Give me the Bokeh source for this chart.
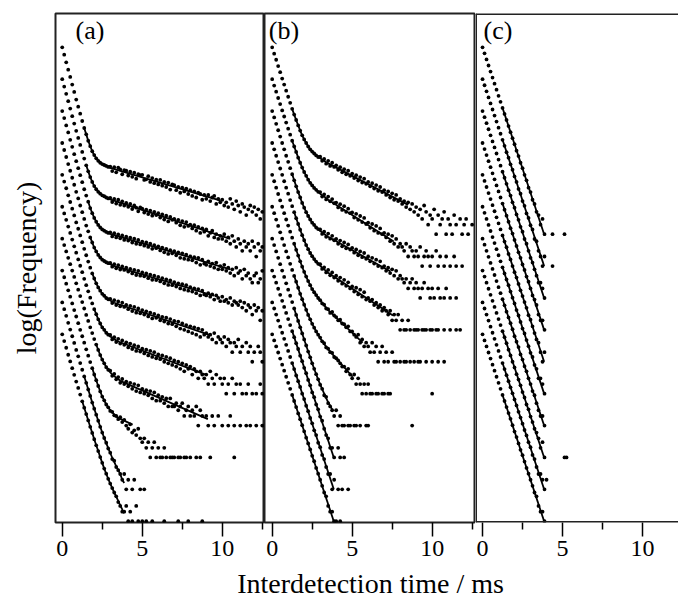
from bokeh.plotting import figure
from bokeh.layouts import row, column
from bokeh.models import FixedTicker, Label, Range1d, Span
from bokeh.embed import file_html
from bokeh.resources import INLINE

BIN = 0.125          # histogram bin width (ms); values below are log10(frequency) per bin
OFFSETS = [9, 8, 7, 6, 5, 4, 3, 2, 1, 0]   # vertical offset (decades) of each curve
N = None

# ---------------- panel (a) ----------------
pa0 = [5.86,5.63,5.39,5.16,4.93,4.69,4.46,4.22,4.00,3.78,3.55,3.33,
 3.13,2.93,2.76,2.60,2.48,2.38,2.30,2.24,2.20,2.17,2.14,2.11,
 2.12,1.98,2.10,1.94,2.09,2.03,1.88,2.01, 1.99,1.84,1.96,1.80,1.93,1.74,1.88,1.85,
 1.86,1.70,1.72,1.82,1.64,1.76,1.60,1.71, 1.56,1.70,1.52,1.64,1.48,1.62,1.40,1.56,
 1.54,1.38,1.48,1.30,1.46,1.34,1.43,1.26, 1.38,1.20,1.34,1.15,1.30,1.26,1.08,1.23,
 1.11,1.23,1.04,1.15,1.20,0.95,1.11,1.00, 1.08,0.90,1.00,0.85,1.11,0.95,0.78,1.04,
 0.90,0.70,0.95,0.85,0.60,0.78,0.90,0.70, 0.85,0.60,0.78,0.48,0.70]
pa1 = [5.86,5.63,5.40,5.17,4.94,4.70,4.47,4.24,4.02,3.80,3.58,3.37,
 3.16,2.97,2.79,2.64,2.51,2.41,2.33,2.27,2.22,2.19,2.15,2.12,
 2.14,2.01,2.11,1.96,2.08,1.92,2.03,1.90, 1.98,1.86,1.95,1.79,1.90,1.83,1.72,1.84,
 1.80,1.68,1.77,1.63,1.74,1.58,1.70,1.60, 1.66,1.52,1.62,1.46,1.58,1.40,1.54,1.45,
 1.48,1.36,1.45,1.28,1.41,1.23,1.38,1.26, 1.30,1.18,1.28,1.11,1.23,1.04,1.18,1.08,
 1.15,0.95,1.04,1.11,0.90,1.00,0.85,0.95, 0.85,1.00,0.78,0.90,0.70,0.95,0.78,0.60,
 0.85,0.70,0.48,0.78,0.60,0.70,0.48,0.78, 0.60,0.30,0.70,0.48,0.60]
pa2 = [5.86,5.64,5.41,5.19,4.96,4.74,4.51,4.29,4.07,3.85,3.63,3.41,
 3.21,3.02,2.82,2.66,2.51,2.39,2.29,2.21,2.15,2.11,2.07,2.04,
 2.06,1.93,2.03,1.90,1.99,1.87,1.96,1.82, 1.92,1.80,1.89,1.74,1.86,1.70,1.82,1.68,
 1.77,1.64,1.74,1.60,1.70,1.54,1.66,1.56, 1.62,1.49,1.58,1.43,1.54,1.38,1.50,1.40,
 1.47,1.34,1.43,1.26,1.40,1.23,1.36,1.20, 1.30,1.18,1.28,1.11,1.26,1.04,1.20,1.08,
 1.04,1.15,1.00,1.08,0.95,1.11,0.90,1.00, 0.90,1.04,0.85,0.95,0.78,0.90,0.70,0.95,
 0.78,0.85,0.60,0.90,0.70,0.78,0.60,0.48, 0.70,0.78,0.48,0.60,0.85]
pa3 = [5.86,5.64,5.42,5.20,4.99,4.77,4.55,4.33,4.12,3.90,3.69,3.48,
 3.27,3.09,2.90,2.74,2.58,2.46,2.35,2.27,2.20,2.16,2.12,2.09,
 2.10,1.98,2.06,1.93,2.03,1.89,1.99,1.88, 1.95,1.83,1.91,1.77,1.88,1.72,1.85,1.70,
 1.80,1.68,1.77,1.62,1.73,1.57,1.70,1.56, 1.66,1.52,1.62,1.46,1.58,1.41,1.55,1.40,
 1.50,1.36,1.46,1.30,1.43,1.26,1.40,1.23, 1.34,1.20,1.30,1.15,1.28,1.08,1.23,1.11,
 1.08,1.15,1.04,1.11,0.95,1.08,1.00,0.90, 1.04,0.90,0.95,0.85,1.00,0.78,0.90,0.85,
 0.78,0.90,0.70,0.85,0.60,0.78,0.70,0.48, 0.78,0.60,0.70,0.30,0.60]
pa4 = [5.86,5.65,5.44,5.22,5.01,4.80,4.59,4.37,4.17,3.96,3.75,3.54,
 3.34,3.14,2.95,2.77,2.61,2.46,2.33,2.23,2.13,2.07,2.00,1.96,
 1.97,1.84,1.93,1.78,1.89,1.74,1.85,1.72, 1.78,1.65,1.75,1.59,1.72,1.54,1.67,1.52,
 1.62,1.48,1.58,1.42,1.54,1.36,1.50,1.38, 1.45,1.30,1.41,1.26,1.38,1.20,1.34,1.18,
 1.28,1.11,1.26,1.04,1.20,1.00,1.15,0.95, 1.11,0.90,1.08,0.85,1.04,0.78,1.00,0.85,
 0.90,0.78,0.85,0.70,0.90,0.60,0.78,0.70, 0.60,0.78,0.48,0.70,0.60,0.30,0.60,0.48,
 0.70,0.30,0.48,N,0.60,0.30,0.48,0, 0.30,N,0.48,0.30,0]
pa5 = [5.86,5.65,5.45,5.24,5.04,4.83,4.62,4.42,4.21,4.01,3.81,3.60,
 3.40,3.21,3.01,2.83,2.65,2.49,2.33,2.20,2.08,2.00,1.91,1.85,
 1.84,1.70,1.77,1.62,1.72,1.57,1.67,1.53, 1.61,1.45,1.57,1.40,1.52,1.34,1.48,1.32,
 1.41,1.26,1.38,1.20,1.34,1.15,1.30,1.11, 1.23,1.08,1.20,1.00,1.15,0.95,1.11,0.90,
 1.04,0.85,1.00,0.78,0.95,0.70,0.90,0.78, 0.85,0.60,0.78,0.70,0.48,0.70,0.60,0.48,
 0.60,0.30,0.70,0.48,0.30,0.60,N,0.48, 0.30,0.48,0,0.30,N,0.48,0,0.30,
 N,0.30,0,N,0,0.30,N,0, N,0,N,0.30,0]
pa6 = [5.86,5.66,5.46,5.26,5.06,4.86,4.66,4.46,4.26,4.06,3.87,3.67,
 3.47,3.28,3.08,2.90,2.71,2.54,2.37,2.21,2.07,1.95,1.83,1.75,
 1.72,1.56,1.62,1.45,1.52,1.34,1.46,1.30, 1.38,1.23,1.34,1.15,1.30,1.08,1.26,1.04,
 1.15,1.00,1.11,0.95,1.08,0.85,1.04,0.78, 0.95,0.78,0.90,0.70,0.85,0.60,0.85,0.60,
 0.60,0.70,0.48,0.60,0.70,0.30,0.48,0.60, 0.30,0.48,0.30,0.60,0,0.48,0.30,N,
 0.30,0,N,0.30,0,N,0.30,N, 0,N,N,0,0.30,N,0,N,
 N,0,N,N,0,N,0,N, N,0,N,N,0]
pa7 = [5.86,5.65,5.45,5.24,5.04,4.83,4.62,4.42,4.21,4.00,3.80,3.60,
 3.39,3.19,2.99,2.80,2.60,2.42,2.24,2.07,1.91,1.79,1.66,1.57,
 1.46,1.43,1.32,1.30,1.20,1.26,1.11,1.18, 1.00,0.90,1.04,0.78,0.85,0.70,0.90,0.60,
 0.48,0.60,0.30,0.48,0,0.30,0.48,0, 0.30,0,0,0.30,0,N,0,0,
 0,N,0,0,N,0,0,N, 0,N,N,0,N,0,N,N,
 N,N,0,N,N,N,N,N, N,N,N,N,N,N,0]
pa8 = [5.86,5.65,5.44,5.22,5.01,4.80,4.59,4.37,4.17,3.96,3.75,3.54,
 3.34,3.13,2.93,2.72,2.53,2.34,2.15,1.96,1.78,1.61,1.46,1.28,
 1.15,0.95,0.90,0.70,0.60,0.48,0.30,0.48, 0,0.30,N,0,0.30,N,N,0, N,0]
pa9 = [5.86,5.65,5.44,5.22,5.01,4.80,4.59,4.38,4.18,3.97,3.76,3.56,
 3.36,3.16,2.96,2.77,2.57,2.38,2.20,2.01,1.83,1.65,1.49,1.33,
 1.18,1.04,0.90,0.78,0.60,0.48,0.30,0.30, 0.48,0,0.30,0,N,0.48,0,N,
 0,N,0,N,N,0,N,N, N,N,N,0,N,N,N,N, N,N,0,N,N,N,N,0, N,N,N,N,N,N,0]

# fitted curves: (start time, values every BIN from start, extra end points (t, value))
fa0 = (1.375, [3.33,3.13,2.93,2.76,2.60,2.48,2.38,2.30,2.24,2.20,2.17,2.14,2.11,2.08], [(9.9, 1.05)])
fa1 = (1.5, [3.16,2.97,2.79,2.64,2.51,2.41,2.33,2.27,2.22,2.19,2.15,2.12,2.09], [(10.5, 0.85)])
fa2 = (1.625, [3.02,2.82,2.66,2.51,2.39,2.29,2.21,2.15,2.11,2.07,2.04,2.01], [(10.5, 0.90)])
fa3 = (1.75, [2.90,2.74,2.58,2.46,2.35,2.27,2.20,2.16,2.12,2.09,2.06,2.03,2.00], [(9.5, 1.07)])
fa4 = (1.875, [2.77,2.61,2.46,2.33,2.23,2.13,2.07,2.00,1.96,1.92,1.88,1.85], [(9.2, 0.84)])
fa5 = (2.0, [2.65,2.49,2.33,2.20,2.08,2.00,1.91,1.85,1.79,1.76,1.71,1.67,1.635], [(9.0, 0.59)])
fa6 = (2.125, [2.54,2.37,2.21,2.07,1.95,1.83,1.75,1.67,1.60,1.55,1.50,1.46,1.40], [(9.1, 0.20)])
fa7 = (1.875, [2.80,2.60,2.42,2.24,2.07,1.91,1.79,1.66,1.57,1.48,1.41,1.35,1.29,1.24], [(4.4, 1.03)])
fa8 = (1.375, [3.54,3.34,3.13,2.93,2.72,2.53,2.34,2.15,1.96,1.78,1.61,1.45,1.29,1.14,0.99,0.86,0.72,0.60,0.48,0.30,0.20], [])
fa9 = (1.25, [3.76,3.56,3.36,3.16,2.96,2.77,2.57,2.38,2.20,2.01,1.83,1.65,1.49,1.33,1.18,1.04,0.90,0.77,0.64,0.50,0.37,0.25], [])

# ---------------- panel (b) ----------------
pb0 = [5.86,5.66,5.47,5.27,5.08,4.88,4.69,4.50,4.31,4.12,3.93,3.75,
 3.58,3.41,3.25,3.10,2.97,2.86,2.75,2.66,2.59,2.53,2.47,2.42,
 2.43,2.30,2.36,2.21,2.30,2.14,2.24,2.11, 2.16,2.02,2.10,1.94,2.04,1.88,1.99,1.83,
 1.90,1.76,1.85,1.68,1.79,1.62,1.74,1.58, 1.64,1.50,1.60,1.43,1.54,1.36,1.48,1.32,
 1.38,1.23,1.34,1.15,1.28,1.08,1.23,1.04, 1.11,0.95,1.04,0.85,1.00,0.78,0.95,0.70,
 0.85,0.60,0.78,0.48,0.90,0.70,0.30,0.60, 0.48,0.78,0,0.60,0.30,0.48,0.70,0,
 0.48,0.30,0,0.60,0.30,N,0.48,0, 0.30,0.48,0,N,0.30]
pb1 = [5.86,5.66,5.47,5.27,5.08,4.88,4.69,4.50,4.31,4.12,3.93,3.75,
 3.58,3.40,3.24,3.09,2.95,2.83,2.71,2.61,2.53,2.45,2.39,2.33,
 2.32,2.18,2.25,2.09,2.18,2.03,2.10,1.97, 1.99,1.84,1.94,1.76,1.88,1.70,1.80,1.66,
 1.68,1.52,1.64,1.45,1.57,1.38,1.51,1.32, 1.36,1.20,1.32,1.11,1.26,1.04,1.18,1.00,
 1.04,0.90,1.00,0.78,0.95,0.70,0.85,0.60, 0.70,0.60,0.48,0.70,0.30,0.60,0.48,0.30,
 0.48,0.30,0.60,0,0.30,0.48,0.30,0, 0.30,N,0.48,0,0.30,N,0,0.30,
 N,0,N,0.30,0,N,N,0]
pb2 = [5.86,5.66,5.46,5.26,5.06,4.86,4.66,4.46,4.27,4.07,3.88,3.69,
 3.50,3.32,3.15,2.98,2.83,2.69,2.57,2.46,2.36,2.29,2.21,2.16,
 2.15,2.01,2.08,1.92,2.02,1.86,1.95,1.81, 1.85,1.70,1.80,1.62,1.74,1.56,1.68,1.52,
 1.57,1.42,1.52,1.34,1.46,1.28,1.41,1.23, 1.30,1.15,1.26,1.08,1.20,1.00,1.15,0.95,
 1.00,0.85,0.95,0.78,0.90,0.70,0.85,0.60, 0.70,0.60,0.48,0.60,0.30,0.48,0.60,0.30,
 0.48,0.30,0,0.30,0.48,N,0.30,0, 0.30,0,N,0.30,0,N,0,0.30,
 N,0,N,N,0]
pb3 = [5.86,5.66,5.46,5.26,5.06,4.86,4.66,4.46,4.27,4.07,3.88,3.69,
 3.50,3.32,3.14,2.97,2.81,2.66,2.53,2.41,2.31,2.22,2.14,2.07,
 2.06,1.91,1.96,1.80,1.88,1.71,1.80,1.64, 1.70,1.54,1.64,1.45,1.57,1.38,1.49,1.30,
 1.36,1.20,1.32,1.11,1.26,1.04,1.18,0.95, 1.00,0.90,0.95,0.78,0.85,0.70,0.78,0.60,
 0.70,0.60,0.48,0.60,0.30,0.48,0.30,0.48, 0,0.30,0,0,0.30,0,N,0,
 0,0,N,0,0,0,N,0, 0,N,0,0,N,N,0,N, N,0,N,N,0,N,0]
pb4 = [5.86,5.66,5.46,5.26,5.06,4.86,4.66,4.46,4.27,4.08,3.89,3.70,
 3.51,3.33,3.15,2.98,2.82,2.67,2.53,2.40,2.28,2.18,2.09,2.00,
 1.93,1.83,1.79,1.67,1.65,1.53,1.56,1.45, 1.40,1.30,1.32,1.20,1.18,1.08,1.11,0.95,
 0.95,0.85,0.78,0.85,0.60,0.70,0.48,0.60, 0.48,0.30,0.60,0.30,0.48,0,0.30,0.48,
 0,0.30,0,N,0.30,0,0,N, 0,N,0,0,N,0,N,0, N,0,0,N,N,0,N,N, 0,N,N,0,N,N,0]
pb5 = [5.86,5.66,5.46,5.26,5.06,4.86,4.66,4.46,4.27,4.07,3.88,3.69,
 3.51,3.32,3.13,2.96,2.79,2.63,2.47,2.33,2.19,2.07,1.95,1.85,
 1.76,1.64,1.58,1.45,1.41,1.30,1.28,1.15, 1.11,1.04,0.95,0.85,0.85,0.70,0.78,0.60,
 0.48,0.60,0.30,0.48,0.30,0,0.30,0, 0.30,0,0,N,0,0,N,0,
 0,N,0,0,N,N,N,N, N,N,N,N,N,N,N,N, N,N,N,N,N,N,N,N, 0]
pb6 = [5.86,5.66,5.46,5.26,5.06,4.86,4.66,4.46,4.26,4.07,3.87,3.67,
 3.47,3.28,3.08,2.89,2.70,2.51,2.32,2.14,1.95,1.78,1.61,1.45,
 1.28,1.15,0.95,0.90,0.70,0.60,0.48,0.30, 0.48,0,0.30,0,0,N,0,0,
 N,0,0,N,0,N,N,0, 0,N,N,N,N,N,N,N, N,N,N,N,N,N,N,N, N,N,N,N,N,N,0]
pb7 = [5.86,5.67,5.48,5.29,5.10,4.91,4.72,4.53,4.34,4.15,3.96,3.77,3.58,3.40,3.19,3.02,
 2.81,2.64,2.43,2.26,2.04,1.89,1.66,1.51,1.28,1.15,0.90,0.70,0.60,0.30,0.30,0, N,0.30,0,N,0]
pb8 = [5.86,5.67,5.48,5.29,5.10,4.91,4.72,4.53,4.34,4.15,3.96,3.77,3.57,3.39,3.21,3.00,
 2.83,2.62,2.45,2.24,2.07,1.85,1.70,1.46,1.32,1.08,0.95,0.70,0.48,0.48,0,0.30, N,0,N,0,N,N,0]
pb9 = [5.86,5.67,5.48,5.29,5.10,4.91,4.72,4.53,4.34,4.15,3.96,3.77,3.58,3.38,3.20,3.01,
 2.82,2.62,2.44,2.25,2.05,1.88,1.67,1.49,1.30,1.11,0.90,0.78,0.48,0.30,0.30,0, 0,N,0]

fb0 = (1.25, [3.93,3.75,3.58,3.41,3.25,3.10,2.97,2.86,2.75,2.66,2.59,2.53,2.47,2.42,2.38,2.34,2.30,2.255,2.22], [(8.5, 0.92)])
fb1 = (1.25, [3.93,3.75,3.58,3.40,3.24,3.09,2.95,2.83,2.71,2.61,2.53,2.45,2.39,2.33,2.27,2.22,2.18,2.13,2.08], [(7.6, 0.77)])
fb2 = (1.25, [3.88,3.69,3.50,3.32,3.15,2.98,2.83,2.69,2.57,2.46,2.36,2.29,2.21,2.16,2.10,2.06,2.01,1.96,1.92], [(7.4, 0.83)])
fb3 = (1.375, [3.69,3.50,3.32,3.14,2.97,2.81,2.66,2.53,2.41,2.31,2.22,2.14,2.07,2.01,1.95,1.90,1.84,1.79], [(7.55, 0.45)])
fb4 = (1.375, [3.70,3.51,3.33,3.15,2.98,2.82,2.67,2.53,2.40,2.28,2.18,2.09,2.00,1.92,1.84,1.77,1.69,1.62], [(5.66, 0.60)])
fb5 = (1.375, [3.69,3.51,3.32,3.13,2.96,2.79,2.63,2.47,2.33,2.19,2.07,1.95,1.85,1.74,1.65,1.56,1.47,1.39], [(5.03, 0.53)])
fb6 = (1.375, [3.67,3.47,3.28,3.08,2.89,2.70,2.51,2.32,2.14,1.95,1.78,1.61,1.44,1.29,1.14,1.00,0.86,0.73,0.62,0.50], [])
f_single = (1.25, [3.96], [(3.85, 0.0)])

# ---------------- panel (c) ----------------
pc0 = [5.86,5.67,5.48,5.29,5.10,4.91,4.72,4.53,4.34,4.15,3.96,3.77,3.58,3.39,3.20,3.01,
 2.82,2.62,2.45,2.24,2.07,1.86,1.69,1.46,1.32,1.08,0.95,0.70,0.60,0.30,0.48,0, N,N,N,0,N,N,N,N,N,0]
pc1 = [5.86,5.67,5.48,5.29,5.10,4.91,4.72,4.53,4.34,4.15,3.96,3.77,3.57,3.40,3.19,3.02,
 2.81,2.64,2.42,2.27,2.04,1.89,1.65,1.51,1.28,1.15,0.85,0.78,0.48,0.30,0,0.30, N,N,N,0]
pc2 = [5.86,5.67,5.48,5.29,5.10,4.91,4.72,4.53,4.34,4.15,3.96,3.77,3.58,3.38,3.21,3.00,
 2.83,2.62,2.45,2.23,2.08,1.85,1.70,1.48,1.26,1.11,0.90,0.70,0.48,0.48,0.30,0]
pc3 = [5.86,5.67,5.48,5.29,5.10,4.91,4.72,4.53,4.34,4.15,3.96,3.77,3.58,3.39,3.19,3.02,
 2.82,2.63,2.43,2.26,2.05,1.88,1.67,1.51,1.30,1.08,0.95,0.78,0.48,0.30,0.30,0]
pc4 = [5.86,5.67,5.48,5.29,5.10,4.91,4.72,4.53,4.34,4.15,3.96,3.77,3.59,3.38,3.21,3.00,
 2.81,2.64,2.44,2.24,2.06,1.87,1.69,1.46,1.32,1.11,0.90,0.70,0.60,0.30,0,0.30]
pc5 = [5.86,5.67,5.48,5.29,5.10,4.91,4.72,4.53,4.34,4.15,3.96,3.77,3.58,3.40,3.20,3.01,
 2.83,2.62,2.45,2.25,2.04,1.89,1.68,1.49,1.28,1.15,0.90,0.78,0.48,0.48,0.30,0]
pc6 = [5.86,5.67,5.48,5.29,5.10,4.91,4.72,4.53,4.34,4.15,3.96,3.77,3.57,3.39,3.21,3.02,
 2.80,2.63,2.46,2.23,2.07,1.86,1.70,1.48,1.30,1.08,0.95,0.70,0.48,0.30,0.30,0]
pc7 = [5.86,5.67,5.48,5.29,5.10,4.91,4.72,4.53,4.34,4.15,3.96,3.77,3.58,3.38,3.20,3.00,
 2.82,2.61,2.44,2.26,2.05,1.88,1.66,1.51,1.28,1.11,0.90,0.78,0.60,0.30,0.48,0, N,N,N,N,N,N,N,N,N,0,0]
pc8 = [5.86,5.67,5.48,5.29,5.10,4.91,4.72,4.53,4.34,4.15,3.96,3.77,3.58,3.39,3.20,3.01,
 2.82,2.63,2.43,2.25,2.06,1.86,1.69,1.48,1.32,1.08,0.95,0.70,0.48,0.48,0.30,0,0.30]
pc9 = [5.86,5.67,5.48,5.29,5.10,4.91,4.72,4.53,4.34,4.15,3.96,3.77,3.58,3.39,3.21,3.01,
 2.81,2.64,2.44,2.24,2.07,1.87,1.67,1.49,1.30,1.11,0.90,0.78,0.48,0.30,0.30,0]

X_TICKS = [0, 5, 10]
X_MINOR = [2.5, 7.5, 12.5]
FONT = "Liberation Serif"
Y_RANGE = (-0.04, 15.92)
EDGE = "#222222"


def make_panel(curves, fits, x_start, x_end, width, left, tag, tag_x, ylabel, open_right=False):
    p = figure(width=width, height=567, x_range=Range1d(x_start, x_end),
               y_range=Range1d(*Y_RANGE), output_backend="svg", toolbar_location=None,
               min_border_left=left, min_border_right=0, min_border_top=13,
               min_border_bottom=45, background_fill_color="white",
               border_fill_color="white")
    p.grid.visible = False
    if open_right:
        p.outline_line_color = None
        for loc, dim in ((Y_RANGE[1], "width"), (Y_RANGE[0], "width"), (x_start, "height")):
            p.add_layout(Span(location=loc, dimension=dim, line_color=EDGE, line_width=3))
    else:
        p.outline_line_color = EDGE
        p.outline_line_width = 2
    ax = p.xaxis[0]
    ax.ticker = FixedTicker(ticks=X_TICKS, minor_ticks=X_MINOR)
    ax.axis_line_color = None
    ax.major_tick_in = 0
    ax.major_tick_out = 14
    ax.minor_tick_in = 0
    ax.minor_tick_out = 7
    ax.major_tick_line_color = "black"
    ax.minor_tick_line_color = "black"
    ax.major_tick_line_width = 1.5
    ax.minor_tick_line_width = 1.5
    ax.major_label_standoff = 4
    ax.major_label_text_font = FONT
    ax.major_label_text_font_size = "24px"
    ax.major_label_text_color = "black"
    ay = p.yaxis[0]
    if ylabel:
        ay.ticker = FixedTicker(ticks=[])
        ay.axis_line_color = None
        ay.major_tick_out = 0
        ay.major_tick_in = 0
        ay.minor_tick_out = 0
        ay.minor_tick_in = 0
        ay.axis_label = ylabel
        ay.axis_label_text_font = FONT
        ay.axis_label_text_font_size = "28px"
        ay.axis_label_text_font_style = "normal"
        ay.axis_label_text_color = "black"
        ay.axis_label_standoff = 14
    else:
        ay.visible = False

    for off, (t0, vals, tail) in zip(OFFSETS, fits):
        ft = [t0 + BIN * k for k in range(len(vals))] + [pt[0] for pt in tail]
        fy = [v + off for v in vals] + [pt[1] + off for pt in tail]
        p.line(ft, fy, line_color="black", line_width=1.8)

    xs, ys = [], []
    for off, vals in zip(OFFSETS, curves):
        for k, v in enumerate(vals):
            if v is not None:
                xs.append(BIN * k)
                ys.append(v + off)
    p.scatter(xs, ys, size=3.8, color="black", line_width=0)

    p.add_layout(Label(x=tag_x, y=15.40, text=tag, text_font=FONT,
                       text_font_size="26px", text_baseline="middle",
                       text_color="black"))
    return p


pa = make_panel([pa0, pa1, pa2, pa3, pa4, pa5, pa6, pa7, pa8, pa9],
                [fa0, fa1, fa2, fa3, fa4, fa5, fa6, fa7, fa8, fa9],
                -0.42, 12.64, 264, 55, "(a)", 0.83, "log(Frequency)")
pb = make_panel([pb0, pb1, pb2, pb3, pb4, pb5, pb6, pb7, pb8, pb9],
                [fb0, fb1, fb2, fb3, fb4, fb5, fb6, f_single, f_single, f_single],
                -0.48, 12.71, 211, 0, "(b)", -0.21, None)
pc = make_panel([pc0, pc1, pc2, pc3, pc4, pc5, pc6, pc7, pc8, pc9],
                [f_single] * 10,
                -0.44, 12.25, 203, 0, "(c)", 0.06, None, open_right=True)

tf = figure(width=678, height=34, x_range=Range1d(0, 678), y_range=Range1d(0, 34),
            output_backend="svg", toolbar_location=None, min_border=0,
            x_axis_type=None, y_axis_type=None)
tf.outline_line_color = None
tf.add_layout(Label(x=370, y=18, text="Interdetection time / ms", text_align="center",
                    text_baseline="middle", text_font=FONT, text_font_size="28px",
                    text_color="black"))

layout = column(row(pa, pb, pc), tf)
open("out.html", "w").write(file_html(layout, INLINE))
